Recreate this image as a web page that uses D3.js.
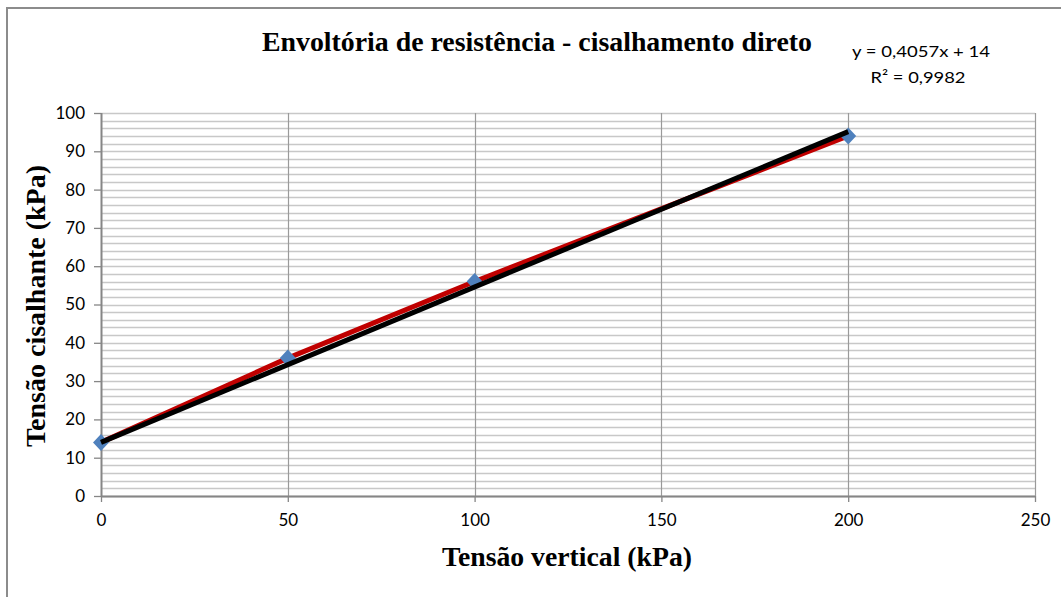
<!DOCTYPE html>
<html><head><meta charset="utf-8">
<script src="https://cdn.jsdelivr.net/npm/d3@7"></script>
<style>html,body{margin:0;padding:0;background:#fff;overflow:hidden}</style>
</head><body>
<svg id="c" width="1061" height="597"></svg>
<script>
// Data
const tensaoVertical = [0, 50, 100, 200];
const tensaoCisalhante = [14, 36, 56, 94];
const trendSlope = 0.4057;
const trendIntercept = 14;
const xTicks = [0, 50, 100, 150, 200, 250];
const yTicks = [0, 10, 20, 30, 40, 50, 60, 70, 80, 90, 100];
const yMinorTicks = d3.range(0, 101, 2);
const titleText = "Envoltória de resistência - cisalhamento direto";
const xTitle = "Tensão vertical (kPa)";
const yTitle = "Tensão cisalhante (kPa)";
const eqLine1 = "y = 0,4057x + 14";
const eqLine2 = "R² = 0,9982";

const svg = d3.select("#c");
const x = d3.scaleLinear().domain([0, 250]).range([101, 1035]);
const y = d3.scaleLinear().domain([0, 100]).range([496, 113]);

// frame
svg.append("rect").attr("x", 7).attr("y", 8).attr("width", 1070).attr("height", 620)
  .attr("fill", "none").attr("stroke", "#8c8c8c").attr("stroke-width", 2);

// horizontal gridlines (minor every 2)
svg.append("g").selectAll("line").data(yMinorTicks).join("line")
  .attr("x1", x(0)).attr("x2", x(250))
  .attr("y1", d => Math.round(y(d)) + 0.5).attr("y2", d => Math.round(y(d)) + 0.5)
  .attr("stroke", "#c8c8c8").attr("stroke-width", 1.3);

// vertical gridlines
svg.append("g").selectAll("line").data(xTicks.slice(1)).join("line")
  .attr("x1", d => Math.round(x(d)) + 0.5).attr("x2", d => Math.round(x(d)) + 0.5)
  .attr("y1", y(100)).attr("y2", y(0))
  .attr("stroke", "#9a9a9a").attr("stroke-width", 1.2);

// axes
const tickFont = "Lato, 'Open Sans', sans-serif";
const xAxis = d3.axisBottom(x).tickValues(xTicks).tickSize(6).tickPadding(10);
const gx = svg.append("g").attr("transform", `translate(0,${y(0)})`).call(xAxis);
const yAxis = d3.axisLeft(y).tickValues(yTicks).tickSize(7).tickPadding(9);
const gy = svg.append("g").attr("transform", `translate(${x(0)},0)`).call(yAxis);
[gx, gy].forEach(g => {
  g.attr("font-size", null).attr("font-family", null);
  g.select(".domain").attr("stroke", "#868686").attr("stroke-width", 2);
  g.selectAll(".tick line").attr("stroke", "#868686").attr("stroke-width", 1.3);
  g.selectAll(".tick text").attr("fill", "#000").style("font-family", tickFont).style("font-size", "17px");
});
gx.select(".domain").attr("d", `M${x(0)},0.5H${x(250)}`);
gx.selectAll(".tick text").attr("dy", "0.85em");
gy.select(".domain").attr("d", `M0.5,${y(0)}V${y(100)}`);

// series line (red)
const line = d3.line().x(d => x(d[0])).y(d => y(d[1]));
const pts = tensaoVertical.map((v, i) => [v, tensaoCisalhante[i]]);
svg.append("path").datum(pts).attr("d", line)
  .attr("fill", "none").attr("stroke", "#c00000").attr("stroke-width", 5).attr("stroke-linejoin", "round");

// markers (diamonds)
svg.append("g").selectAll("path").data(pts).join("path")
  .attr("transform", d => `translate(${x(d[0])},${y(d[1])})`)
  .attr("d", "M0,-8.5L8,0L0,8.5L-8,0Z")
  .attr("fill", "#4f81bd");

// trendline (black)
const trendX = [d3.min(tensaoVertical), d3.max(tensaoVertical)];
svg.append("path").datum(trendX.map(v => [v, trendSlope * v + trendIntercept]))
  .attr("d", line).attr("fill", "none").attr("stroke", "#000").attr("stroke-width", 5);

// titles
const serif = "'Liberation Serif', 'Times New Roman', serif";
svg.append("text").attr("x", 537).attr("y", 51).attr("text-anchor", "middle")
  .attr("textLength", 550).attr("lengthAdjust", "spacingAndGlyphs")
  .style("font-family", serif).style("font-weight", "bold").style("font-size", "28px")
  .text(titleText);
svg.append("text").attr("x", 567).attr("y", 566).attr("text-anchor", "middle")
  .attr("textLength", 250).attr("lengthAdjust", "spacingAndGlyphs")
  .style("font-family", serif).style("font-weight", "bold").style("font-size", "27px")
  .text(xTitle);
svg.append("text").attr("transform", "translate(45,306) rotate(-90)").attr("text-anchor", "middle")
  .attr("textLength", 282).attr("lengthAdjust", "spacingAndGlyphs")
  .style("font-family", serif).style("font-weight", "bold").style("font-size", "27px")
  .text(yTitle);

// equation
const eq = svg.append("g").style("font-family", tickFont).style("font-size", "16px");
eq.append("text").attr("x", 921).attr("y", 57).attr("text-anchor", "middle")
  .attr("textLength", 138).attr("lengthAdjust", "spacingAndGlyphs").text(eqLine1);
eq.append("text").attr("x", 918).attr("y", 83).attr("text-anchor", "middle")
  .attr("textLength", 95).attr("lengthAdjust", "spacingAndGlyphs").text(eqLine2);
</script>
</body></html>
